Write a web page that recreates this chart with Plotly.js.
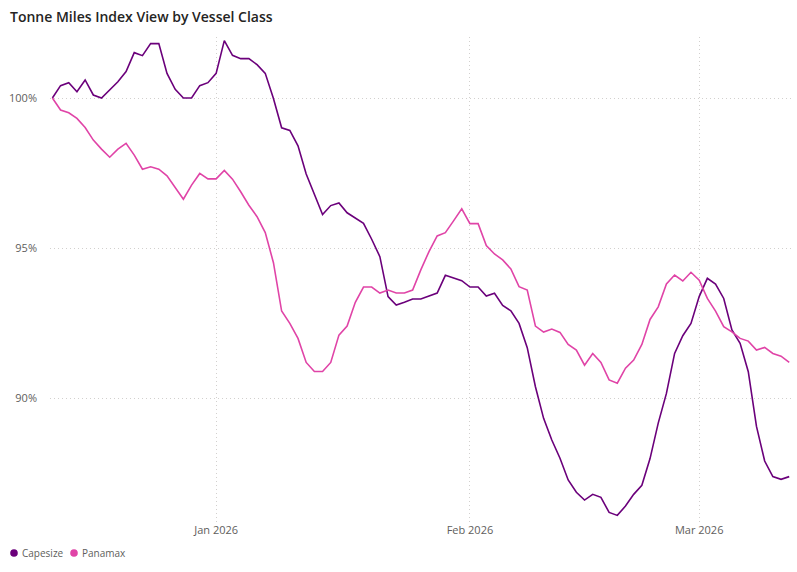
<!DOCTYPE html>
<html>
<head>
<meta charset="utf-8">
<script src="https://cdn.plot.ly/plotly-3.0.1.min.js"></script>
<style>html,body{margin:0;padding:0;background:#fff;}#chart{width:797px;height:572px;}</style>
</head>
<body>
<div id="chart"></div>
<script>
// Daily observations starting 2025-12-12
const startDate = '2025-12-12';
const seriesNames = ['Capesize', 'Panamax'];
const capesize = [
  100.00, 100.41, 100.51, 100.21, 100.60, 100.10, 100.00, 100.27, 100.54, 100.88,
  101.51, 101.41, 101.81, 101.81, 100.82, 100.29, 100.00, 100.00, 100.41, 100.51,
  100.82, 101.91, 101.42, 101.31, 101.31, 101.11, 100.82, 99.98, 99.01, 98.92,
  98.41, 97.47, 96.80, 96.12, 96.42, 96.51, 96.18, 96.00, 95.83, 95.30,
  94.72, 93.39, 93.11, 93.20, 93.31, 93.31, 93.41, 93.51, 94.10, 94.01,
  93.92, 93.71, 93.71, 93.41, 93.50, 93.10, 92.92, 92.50, 91.69, 90.39,
  89.34, 88.62, 88.01, 87.29, 86.88, 86.62, 86.81, 86.71, 86.21, 86.11,
  86.42, 86.81, 87.11, 88.00, 89.18, 90.17, 91.50, 92.09, 92.50, 93.39,
  94.00, 93.81, 93.33, 92.28, 91.84, 90.89, 89.07, 87.92, 87.40, 87.31,
  87.40
];
const panamax = [
  100.00, 99.60, 99.51, 99.32, 99.02, 98.60, 98.30, 98.03, 98.30, 98.49,
  98.10, 97.63, 97.71, 97.63, 97.41, 97.03, 96.63, 97.10, 97.49, 97.31,
  97.31, 97.59, 97.30, 96.88, 96.43, 96.05, 95.52, 94.52, 92.91, 92.50,
  92.00, 91.20, 90.90, 90.90, 91.20, 92.11, 92.41, 93.20, 93.71, 93.71,
  93.51, 93.61, 93.51, 93.51, 93.61, 94.28, 94.89, 95.41, 95.52, 95.91,
  96.31, 95.82, 95.82, 95.09, 94.81, 94.61, 94.31, 93.72, 93.61, 92.41,
  92.21, 92.31, 92.20, 91.80, 91.61, 91.11, 91.50, 91.20, 90.62, 90.51,
  91.01, 91.28, 91.80, 92.63, 93.05, 93.81, 94.11, 93.91, 94.20, 93.94,
  93.33, 92.91, 92.39, 92.22, 92.00, 91.91, 91.61, 91.70, 91.50, 91.41,
  91.20
];
const colors = ['#6B007B', '#E044A7'];

function dates(n) {
  const out = [];
  const d0 = new Date(startDate + 'T00:00:00Z');
  for (let i = 0; i < n; i++) {
    const d = new Date(d0.getTime() + i * 86400000);
    out.push(d.toISOString().slice(0, 10));
  }
  return out;
}
const x = dates(capesize.length);
const seriesValues = [capesize, panamax];

const traces = seriesValues.map((vals, i) => ({
  x: x, y: vals, type: 'scatter', mode: 'lines', name: seriesNames[i],
  line: {color: colors[i], width: 1.6}, showlegend: false
}));

// Custom legend (circles + labels) in pixel positions of the container
const W = 797, H = 572;
const legendItems = [{cx: 14, tx: 20}, {cx: 74, tx: 80}];
const legendY = 553;
const shapes = [], annotations = [];
legendItems.forEach((it, i) => {
  shapes.push({
    type: 'circle', xref: 'paper', yref: 'paper',
    x0: (it.cx - 3.8 - 50) / (W - 53), x1: (it.cx + 3.8 - 50) / (W - 53),
    y0: (H - 50 - (legendY + 3.8)) / (H - 87), y1: (H - 50 - (legendY - 3.8)) / (H - 87),
    fillcolor: colors[i], line: {width: 0}
  });
  annotations.push({
    text: seriesNames[i], xref: 'paper', yref: 'paper', showarrow: false,
    x: (it.tx - 50) / (W - 53), xanchor: 'left',
    y: (H - 50 - legendY) / (H - 87), yanchor: 'middle',
    font: {size: 10, color: '#605E5C'}
  });
});

const layout = {
  width: W, height: H,
  margin: {l: 50, r: 3, t: 37, b: 50},
  paper_bgcolor: '#ffffff', plot_bgcolor: '#ffffff',
  font: {family: '"Segoe UI", "Open Sans", sans-serif', size: 11, color: '#605E5C'},
  title: {
    text: 'Tonne Miles Index View by Vessel Class',
    x: 10 / W, xref: 'container', xanchor: 'left',
    y: 1 - 17 / H, yref: 'container', yanchor: 'middle',
    font: {family: '"Segoe UI", "Open Sans", sans-serif', size: 14, color: '#252423', weight: 600}
  },
  xaxis: {
    type: 'date',
    range: ['2025-12-11 17:00', '2026-03-12 14:00'],
    tick0: '2026-01-01', dtick: 'M1', tickformat: '%b %Y',
    showgrid: true, gridcolor: '#D2D0CE', griddash: '1px,3px', gridwidth: 1,
    zeroline: false, showline: false, ticks: '',
    tickfont: {size: 11, color: '#605E5C'}
  },
  yaxis: {
    range: [85.89, 102.03],
    tick0: 90, dtick: 5, ticksuffix: '%',
    showgrid: true, gridcolor: '#D2D0CE', griddash: '1px,3px', gridwidth: 1,
    zeroline: false, showline: false, ticks: '', ticklabelstandoff: 12,
    tickfont: {size: 11, color: '#605E5C'}
  },
  showlegend: false,
  shapes: shapes,
  annotations: annotations
};

Plotly.newPlot('chart', traces, layout, {displayModeBar: false, staticPlot: true});
</script>
</body>
</html>
